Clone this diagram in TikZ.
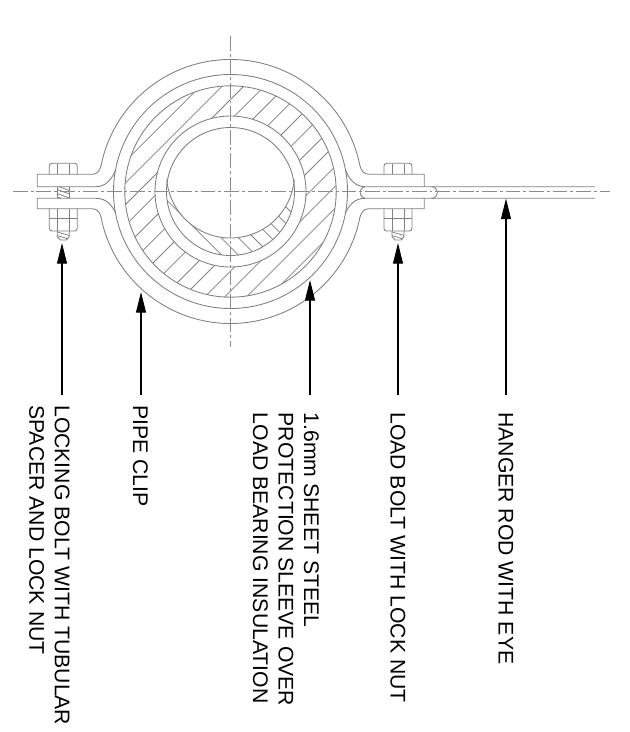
\documentclass[tikz,border=0pt]{standalone}
\usepackage{fontspec}
\setmainfont{Liberation Sans}
\usetikzlibrary{arrows.meta}
\begin{document}
\begin{tikzpicture}[
    x=0.75pt, y=-0.75pt,
    part_line/.style={draw=black!50, line width=0.65pt, line join=round},
    hatch_line/.style={draw=black!50, line width=0.55pt},
    center_line/.style={draw=black!45, line width=0.6pt, dash pattern=on 11pt off 2.2pt on 2.2pt off 2.2pt},
    leader/.style={draw=black, line width=0.85pt, -{Triangle[length=15.5pt, width=7.5pt]}},
    callout/.style={rotate=-90, anchor=west, align=left, inner sep=0pt, text=black, font=\fontsize{15.9}{19.1}\selectfont}
]
\useasboundingbox (0,0) rectangle (630,732);
\coordinate (clip_center) at (230.5,191.5);
\coordinate (pipe_center) at (230.5,174);

% insulation hatch
\begin{scope}[even odd rule]
    \clip (clip_center) circle (105.7) (clip_center) circle (75.5);
    \foreach \hatchoff in {-135.3,-113.7,-92,-71.3,-50,-28.7,-6,15.3,38,58,79.7,99.7,121.3,143.7}
        \draw[hatch_line] (230.5+\hatchoff/2+160,191.5+\hatchoff/2-160) -- (230.5+\hatchoff/2-160,191.5+\hatchoff/2+160);
\end{scope}
% crescent hatch
\begin{scope}[even odd rule]
    \clip (clip_center) circle (64);
    \clip (0,0) rectangle (630,732) (pipe_center) circle (64);
    \foreach \hatchoff in {-33.3,-16.7,0.7,16,33.3,47.3,62.3,79}
        \draw[hatch_line] (100,100-\hatchoff) -- (320,320-\hatchoff);
\end{scope}

\draw[part_line] (clip_center) circle (117);
\draw[part_line] (clip_center) circle (105.7);
\draw[part_line] (clip_center) circle (75.5);
\draw[part_line] (clip_center) circle (64);
\draw[part_line] ([shift={(175:64)}]pipe_center) arc[start angle=175, end angle=5, radius=64];

% clip with flanges
\draw[part_line] (96,186.7) -- (37.3,186.7) -- (37.3,174.3) -- (92,174.3)
    .. controls (97,174.3) and (99.5,171) .. ([shift={(-168.9:132)}]clip_center)
    arc[start angle=-168.9, end angle=-11.1, radius=132]
    .. controls (361.5,171) and (364,174.3) .. (369,174.3) -- (424.3,174.3) -- (424.3,186.7);
\draw[part_line] (96,198.3) -- (37.3,198.3) -- (37.3,208.7) -- (92,208.7)
    .. controls (97,208.7) and (99.5,212) .. ([shift={(168.9:132)}]clip_center)
    arc[start angle=168.9, end angle=11.1, radius=132]
    .. controls (361.5,212) and (364,208.7) .. (369,208.7) -- (424.3,208.7) -- (424.3,198.3);
\draw[part_line] (96,186.7) .. controls (106,186.7) and (112,179) .. (115.5,170);
\draw[part_line] (96,198.3) .. controls (106,198.3) and (112,205) .. (115.5,213);
\draw[part_line] (365,186.7) .. controls (355,186.7) and (349,179) .. (345.5,170);
\draw[part_line] (365,198.3) .. controls (355,198.3) and (349,205) .. (345.5,213);

% rod with eye
\draw[part_line] (595,186.7) -- (366,186.7) arc[start angle=-90, end angle=-270, radius=5.8] -- (595,198.3);
\draw[part_line] (431.5,186.7) arc[start angle=-90, end angle=90, radius=5.8];

% bolts
\foreach \bx in {63.3,398} {
    \draw[part_line, rounded corners=2pt] (\bx-14,174.3) -- (\bx-14,163.3) -- (\bx+14,163.3) -- (\bx+14,174.3);
    \draw[part_line, rounded corners=2pt] (\bx-14,208.7) -- (\bx-14,231) -- (\bx+14,231) -- (\bx+14,208.7);
    \draw[part_line] (\bx-14,218.7) -- (\bx+14,218.7);
    \draw[part_line] (\bx-6,174.3) -- (\bx-6,164) (\bx+6,174.3) -- (\bx+6,164);
    \draw[part_line] (\bx-6,208.7) -- (\bx-6,231) (\bx+6,208.7) -- (\bx+6,231);
    \draw[part_line] (\bx-6,231) -- (\bx-6,236.5) -- (\bx-3,240) -- (\bx+3,240) -- (\bx+6,236.5) -- (\bx+6,231);
    \draw[hatch_line] (\bx-6,232) -- (\bx+6,235.5) (\bx-6,235.5) -- (\bx+5,239);
}
\draw[part_line] (57.3,186.7) -- (57.3,198.3) (69.3,186.7) -- (69.3,198.3);
\draw[hatch_line] (59,186.7) -- (69.3,190.5) (57.3,189.5) -- (69.3,194) (57.3,193.5) -- (69.3,198) (57.3,197) -- (61,198.3);

% center lines
\draw[center_line] (13,191.5) -- (610,191.5);
\draw[center_line] (230.5,36) -- (230.5,347);

% labels
\node[callout] (locking_label) at (49.5,405) {LOCKING BOLT WITH TUBULAR\\SPACER AND LOCK NUT};
\node[callout] (clip_label) at (140.5,405) {PIPE CLIP};
\node[callout] (sleeve_label) at (286,412.5) {1.6mm SHEET STEEL\\PROTECTION SLEEVE OVER\\LOAD BEARING INSULATION};
\node[callout] (load_label) at (398,412) {LOAD BOLT WITH LOCK NUT};
\node[callout] (rod_label) at (506,412) {HANGER ROD WITH EYE};

\coordinate (locking_tail) at (62,395);
\coordinate (locking_tip) at (62,243);
\coordinate (clip_tail) at (141,395);
\coordinate (clip_tip) at (141,292);
\coordinate (sleeve_tail) at (310,395);
\coordinate (sleeve_tip) at (310,280);
\coordinate (load_tail) at (398,395);
\coordinate (load_tip) at (398,243);
\coordinate (rod_tail) at (506,395);
\coordinate (rod_tip) at (506,198.5);
\draw[leader] (locking_tail) -- (locking_tip);
\draw[leader] (clip_tail) -- (clip_tip);
\draw[leader] (sleeve_tail) -- (sleeve_tip);
\draw[leader] (load_tail) -- (load_tip);
\draw[leader] (rod_tail) -- (rod_tip);
\end{tikzpicture}
\end{document}
